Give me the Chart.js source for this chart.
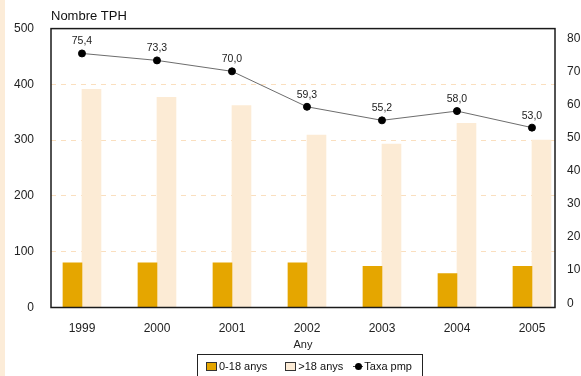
<!DOCTYPE html>
<html>
<head>
<meta charset="utf-8">
<script src="https://cdn.jsdelivr.net/npm/chart.js@4.4.0/dist/chart.umd.min.js"></script>
<style>
body{margin:0;background:#fff;}
#wrap{position:relative;width:581px;height:376px;overflow:hidden;font-family:"Liberation Sans",Arial,sans-serif;}
#legend{position:absolute;left:197px;top:354px;width:226px;height:30px;border:1px solid #222;box-sizing:border-box;display:flex;align-items:center;padding:0 0 6px 8px;font-size:11px;color:#111;line-height:13px;}
#legend .item{display:flex;align-items:center;}
#legend .sq{width:11px;height:9px;border:1px solid #333;box-sizing:border-box;margin-right:2px;}
#legend .ln{position:relative;width:10px;height:9px;margin-right:1px;}
#legend .ln:before{content:"";position:absolute;left:0;right:0;top:4px;height:1px;background:#444;}
#legend .ln:after{content:"";position:absolute;left:2px;top:1px;width:7px;height:7px;border-radius:50%;background:#000;}
</style>
</head>
<body>
<div id="wrap">
<canvas id="chart" width="581" height="376"></canvas>
<div id="legend"></div>
</div>
<script>
// Data
const years=["1999","2000","2001","2002","2003","2004","2005"];
const young=[80,80,80,80,74,61,74];
const adults=[391,377,362,309,293,330,300];
const taxa=[75.4,73.3,70.0,59.3,55.2,58.0,53.0];
const leftTicks=[0,100,200,300,400,500];
const rightTicks=[0,10,20,30,40,50,60,70,80];

const orange="#e5a600";
const beige="#fcebd5";

// plot frame + left strip
const framePlugin={
id:"frame",
beforeDraw(chart){
const c=chart.ctx;
c.save();
c.fillStyle="#fff";
c.fillRect(0,0,chart.width,chart.height);
c.fillStyle="#fcecd8";
c.fillRect(0,0,5,chart.height);
c.restore();
},
afterDraw(chart){
const a=chart.chartArea,c=chart.ctx;
c.save();
c.strokeStyle="#1a1a1a";
c.lineWidth=1.5;
c.strokeRect(a.left,a.top,a.right-a.left,a.bottom-a.top);
c.restore();
}
};

// value labels over the line points
const labelPlugin={
id:"pointLabels",
afterDatasetsDraw(chart){
const c=chart.ctx;
const meta=chart.getDatasetMeta(2);
c.save();
c.font="10.5px 'Liberation Sans', Arial, sans-serif";
c.fillStyle="#222";
c.textAlign="center";
c.textBaseline="middle";
meta.data.forEach((p,i)=>{
c.fillText(taxa[i].toFixed(1).replace(".",","),p.x,p.y-12);
});
c.restore();
}
};

// html legend
const legendPlugin={
id:"htmlLegend",
afterUpdate(chart){
const box=document.getElementById("legend");
box.innerHTML="";
chart.data.datasets.forEach((ds,i)=>{
const item=document.createElement("span");
item.className="item";
if(i>0) item.style.marginLeft=i==1?"18px":"10px";
const sym=document.createElement("span");
if(ds.type=="line"){sym.className="ln";}
else{sym.className="sq";sym.style.background=ds.backgroundColor;}
const txt=document.createElement("span");
txt.textContent=ds.label;
item.appendChild(sym);
item.appendChild(txt);
box.appendChild(item);
});
}
};

Chart.defaults.font.family="'Liberation Sans', Arial, sans-serif";
Chart.defaults.color="#111";

new Chart(document.getElementById("chart"),{
data:{
datasets:[
{type:"bar",label:"0-18 anys",data:young.map((v,i)=>({x:i,y:v})),backgroundColor:orange,barThickness:19,yAxisID:"y",order:1},
{type:"bar",label:">18 anys",data:adults.map((v,i)=>({x:i,y:v})),backgroundColor:beige,barThickness:19,yAxisID:"y",order:1},
{type:"line",label:"Taxa pmp",data:taxa.map((v,i)=>({x:i,y:v})),borderColor:"#6d6d6d",borderWidth:1,pointRadius:3.5,pointBackgroundColor:"#000",pointBorderColor:"#000",yAxisID:"y1",order:0}
]
},
options:{
responsive:false,
animation:false,
devicePixelRatio:1,
layout:{padding:{left:0,right:0,top:0,bottom:20}},
plugins:{
legend:{display:false},
tooltip:{enabled:false},
title:{display:true,text:"Nombre TPH",align:"start",fullSize:false,font:{size:13,weight:"normal"},color:"#111",padding:{top:9,bottom:4}}
},
scales:{
x:{
type:"linear",position:"bottom",min:-0.413,max:6.307,offset:false,
grid:{display:false,offset:false},border:{display:false},
ticks:{stepSize:1,padding:6,maxRotation:0,autoSkip:false,font:{size:12},color:"#222",callback:v=>years[v]},
afterBuildTicks:s=>{s.ticks=years.map((y,i)=>({value:i}));},
title:{display:true,text:"Any",font:{size:11},color:"#222",padding:{top:0,bottom:4}},
afterFit:s=>{s.height=48.5;}
},
y:{
position:"left",min:0,max:500,
grid:{color:"#fadfbf",drawTicks:false,lineWidth:1},
border:{display:false,dash:[5,5]},
ticks:{stepSize:100,padding:17,font:{size:12},color:"#222"},
afterBuildTicks:s=>{s.ticks=leftTicks.map(v=>({value:v}));},
afterFit:s=>{s.width=51;}
},
y1:{
position:"right",min:-1.3,max:82.9,
grid:{display:false,drawTicks:false},
border:{display:false},
ticks:{stepSize:10,padding:12,font:{size:12},color:"#222"},
afterBuildTicks:s=>{s.ticks=rightTicks.map(v=>({value:v}));},
afterFit:s=>{s.width=26;}
}
}
},
plugins:[framePlugin,labelPlugin,legendPlugin]
});
</script>
</body>
</html>
